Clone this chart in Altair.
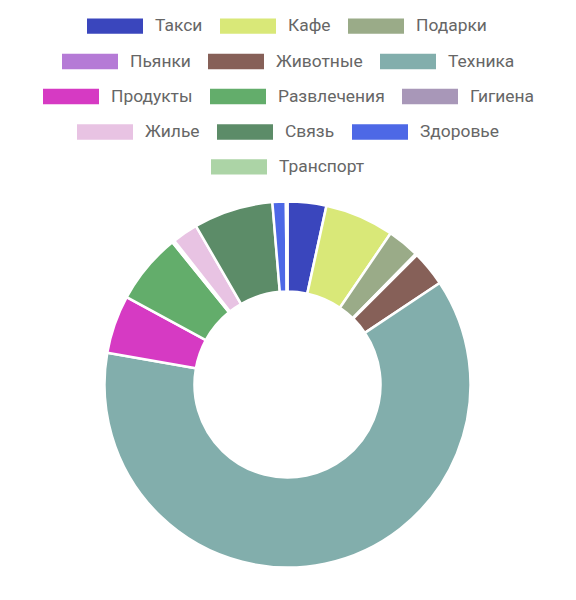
import altair as alt
import pandas as pd

categories = ["Такси", "Кафе", "Подарки", "Пьянки", "Животные", "Техника",
              "Продукты", "Развлечения", "Гигиена", "Жилье", "Связь",
              "Здоровье", "Транспорт"]
values = [12.3, 22.0, 10.2, 0.5, 11.3, 223.7, 18.5, 22.5, 0.8, 8.2, 25.25, 4.25, 0.5]
colors = ["#3a46bd", "#d9e878", "#9aab88", "#b57ad6", "#866058", "#82aeac",
          "#d63ac3", "#63ad6b", "#a897b8", "#e8c3e3", "#5c8c68", "#4d68e6",
          "#acd4a6"]
legend_rows = [0, 0, 0, 1, 1, 1, 2, 2, 2, 3, 3, 3, 4]

row_x = [87, 62, 43, 77, 211]
row_center_y = [25.8, 61.2, 96.2, 131.7, 166.8]

df = pd.DataFrame({
    "category": categories,
    "value": values,
    "order": list(range(len(categories))),
    "row": legend_rows,
})
total = float(sum(values))

base = alt.Chart(df).transform_window(
    end="sum(value)", sort=[alt.SortField("order")], frame=[None, 0]
).transform_calculate(start="datum.end - datum.value")

layers = []
for r in range(5):
    idx = [i for i in range(len(categories)) if legend_rows[i] == r]
    cats = [categories[i] for i in idx]
    cols = [colors[i] for i in idx]
    layer = base.transform_filter(alt.datum.row == r).mark_arc(
        outerRadius=183, innerRadius=93, stroke="white", strokeWidth=2.5
    ).encode(
        theta=alt.Theta("start:Q", stack=None, scale=alt.Scale(domain=[0, total])),
        theta2="end:Q",
        color=alt.Color(
            "category:N",
            scale=alt.Scale(domain=cats, range=cols),
            legend=alt.Legend(
                orient="none",
                legendX=row_x[r],
                legendY=row_center_y[r] - 28,
                direction="horizontal",
                columns=len(cats),
                title=None,
                symbolType="M-1,-0.273H1V0.273H-1Z",
                symbolSize=3136,
                symbolStrokeWidth=0,
                symbolOpacity=1,
                labelFont="Roboto",
                labelFontSize=17.4,
                labelColor="#666666",
                labelOffset=12,
                columnPadding=17,
                padding=0,
                labelLimit=300,
            ),
        ),
        x=alt.value(287.5),
        y=alt.value(384.5),
    )
    layers.append(layer)

chart = alt.layer(*layers).resolve_scale(
    color="independent", theta="shared"
).properties(
    width=576, height=600, padding=0, autosize="none", background="white"
).configure_view(stroke=None)

chart.save("out.html", embed_options={"renderer": "svg", "actions": False})
